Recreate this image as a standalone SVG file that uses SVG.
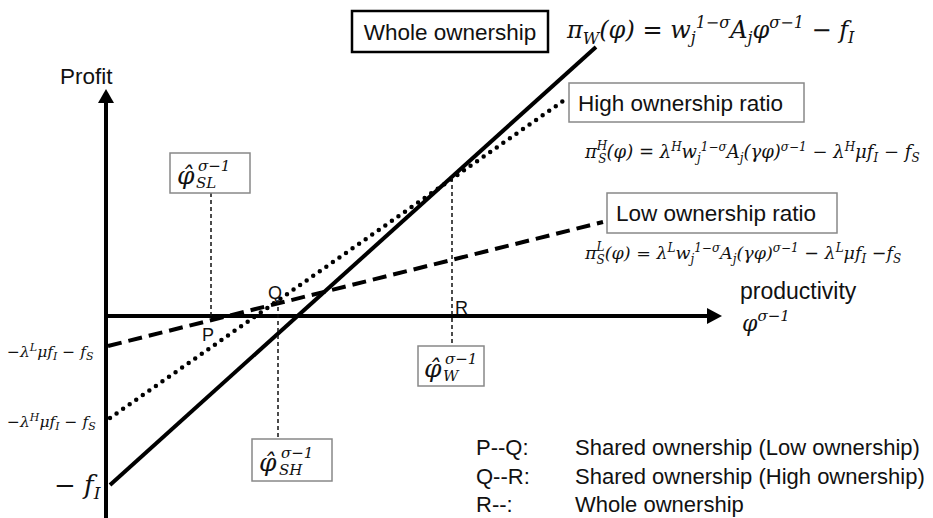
<svg xmlns="http://www.w3.org/2000/svg" width="933" height="518" viewBox="0 0 933 518">
<style>
.t{font-family:"Liberation Sans",Arial,sans-serif;fill:#111}
.m{font-family:"DejaVu Serif","Liberation Serif",serif;font-style:italic;fill:#111}
.gb{fill:#fff;stroke:#888;stroke-width:1.5}
.vd{stroke:#111;stroke-width:1.5;stroke-dasharray:4 3;fill:none}
</style>
<rect width="933" height="518" fill="#fff"/>
<g id="connectors">
<line x1="106" y1="518" x2="106" y2="103" stroke="#000" stroke-width="4"/>
<path d="M98,103 L106,89 L114,103 z" fill="#000"/>
<line x1="104" y1="316" x2="708" y2="316" stroke="#000" stroke-width="4"/>
<path d="M707,308 L722,316 L707,324 z" fill="#000"/>
<line id="whole" x1="110" y1="485" x2="596" y2="47" stroke="#000" stroke-width="4"/>
<line id="high" x1="110" y1="418" x2="566" y2="99" stroke="#000" stroke-width="4.5" stroke-linecap="round" stroke-dasharray="0 8"/>
<line id="low" x1="108" y1="346" x2="603" y2="222" stroke="#000" stroke-width="4" stroke-dasharray="14 7"/>
<line class="vd" x1="211" y1="193" x2="211" y2="316"/>
<line class="vd" x1="278" y1="300" x2="278" y2="439"/>
<line class="vd" x1="452" y1="178" x2="452" y2="346"/>
</g>
<g id="axis-labels">
<text class="t" x="60" y="84" font-size="22.5">Profit</text>
<text class="t" x="740" y="299" font-size="23">productivity</text>
<text class="m" x="742" y="331" font-size="22">φ<tspan dy="-10" font-size="15">σ−1</tspan></text>
</g>
<g id="y-labels">
<text class="m" x="7" y="357" font-size="15.5">−λ<tspan dy="-6" font-size="11">L</tspan><tspan dy="6">μf</tspan><tspan dy="3" font-size="11">I</tspan><tspan dy="-3"> − f</tspan><tspan dy="3" font-size="11">S</tspan></text>
<text class="m" x="7" y="427" font-size="15.5">−λ<tspan dy="-6" font-size="11">H</tspan><tspan dy="6">μf</tspan><tspan dy="3" font-size="11">I</tspan><tspan dy="-3"> − f</tspan><tspan dy="3" font-size="11">S</tspan></text>
<text class="m" x="54" y="494" font-size="26">− f<tspan dy="5" font-size="17">I</tspan></text>
</g>
<g id="points">
<text class="t" x="202" y="341" font-size="18">P</text>
<text class="t" x="268" y="299" font-size="18">Q</text>
<text class="t" x="455" y="314" font-size="18">R</text>
</g>
<g id="whole-box">
<rect x="352" y="11" width="196" height="41" fill="#fff" stroke="#000" stroke-width="2.5"/>
<text class="t" x="450" y="40" font-size="22.5" text-anchor="middle">Whole ownership</text>
<text class="m" x="567" y="38" font-size="24">π<tspan dy="6" font-size="16">W</tspan><tspan dy="-6">(φ) = w</tspan><tspan dy="5" font-size="16">j</tspan><tspan dy="-15" font-size="16">1−σ</tspan><tspan dy="10">A</tspan><tspan dy="5" font-size="16">j</tspan><tspan dy="-5">φ</tspan><tspan dy="-10" font-size="16">σ−1</tspan><tspan dy="10"> − f</tspan><tspan dy="5" font-size="16">I</tspan></text>
</g>
<g id="high-box">
<rect class="gb" x="569" y="83" width="235" height="39"/>
<text class="t" x="578" y="111" font-size="22.5">High ownership ratio</text>
<text class="m" x="585" y="158" font-size="18">π<tspan dy="-8" font-size="12">H</tspan><tspan dx="-9" dy="13" font-size="12">S</tspan><tspan dy="-5">(φ) = λ</tspan><tspan dy="-7" font-size="12">H</tspan><tspan dy="7">w</tspan><tspan dy="4" font-size="12">j</tspan><tspan dy="-11" font-size="12">1−σ</tspan><tspan dy="7">A</tspan><tspan dy="4" font-size="12">j</tspan><tspan dy="-4">(γφ)</tspan><tspan dy="-7" font-size="12">σ−1</tspan><tspan dy="7"> − λ</tspan><tspan dy="-7" font-size="12">H</tspan><tspan dy="7">μf</tspan><tspan dy="4" font-size="12">I</tspan><tspan dy="-4"> − f</tspan><tspan dy="4" font-size="12">S</tspan></text>
</g>
<g id="low-box">
<rect class="gb" x="607" y="193" width="230" height="40"/>
<text class="t" x="616" y="221" font-size="22.5">Low ownership ratio</text>
<text class="m" x="585" y="259" font-size="17.5">π<tspan dy="-8" font-size="12">L</tspan><tspan dx="-8" dy="13" font-size="12">S</tspan><tspan dy="-5">(φ) = λ</tspan><tspan dy="-7" font-size="12">L</tspan><tspan dy="7">w</tspan><tspan dy="4" font-size="12">j</tspan><tspan dy="-11" font-size="12">1−σ</tspan><tspan dy="7">A</tspan><tspan dy="4" font-size="12">j</tspan><tspan dy="-4">(γφ)</tspan><tspan dy="-7" font-size="12">σ−1</tspan><tspan dy="7"> − λ</tspan><tspan dy="-7" font-size="12">L</tspan><tspan dy="7">μf</tspan><tspan dy="4" font-size="12">I</tspan><tspan dy="-4"> −f</tspan><tspan dy="4" font-size="12">S</tspan></text>
</g>
<g id="phi-SL">
<rect class="gb" x="170" y="153" width="80" height="40"/>
<text class="m" x="177" y="184" font-size="25">φ̂</text>
<text class="m" x="198" y="171" font-size="15">σ−1</text>
<text class="m" x="196" y="188" font-size="15">SL</text>
</g>
<g id="phi-W">
<rect class="gb" x="418" y="346" width="66" height="40"/>
<text class="m" x="424" y="377" font-size="25">φ̂</text>
<text class="m" x="445" y="364" font-size="15">σ−1</text>
<text class="m" x="443" y="381" font-size="15">W</text>
</g>
<g id="phi-SH">
<rect class="gb" x="252" y="439" width="80" height="42"/>
<text class="m" x="259" y="471" font-size="25">φ̂</text>
<text class="m" x="281" y="458" font-size="15">σ−1</text>
<text class="m" x="279" y="475" font-size="15">SH</text>
</g>
<g id="legend">
<text class="t" x="476" y="455" font-size="22">P--Q:</text>
<text class="t" x="575" y="455" font-size="22">Shared ownership (Low ownership)</text>
<text class="t" x="476" y="484" font-size="22">Q--R:</text>
<text class="t" x="575" y="484" font-size="22">Shared ownership (High ownership)</text>
<text class="t" x="476" y="512" font-size="22">R--:</text>
<text class="t" x="575" y="512" font-size="22">Whole ownership</text>
</g>
</svg>
